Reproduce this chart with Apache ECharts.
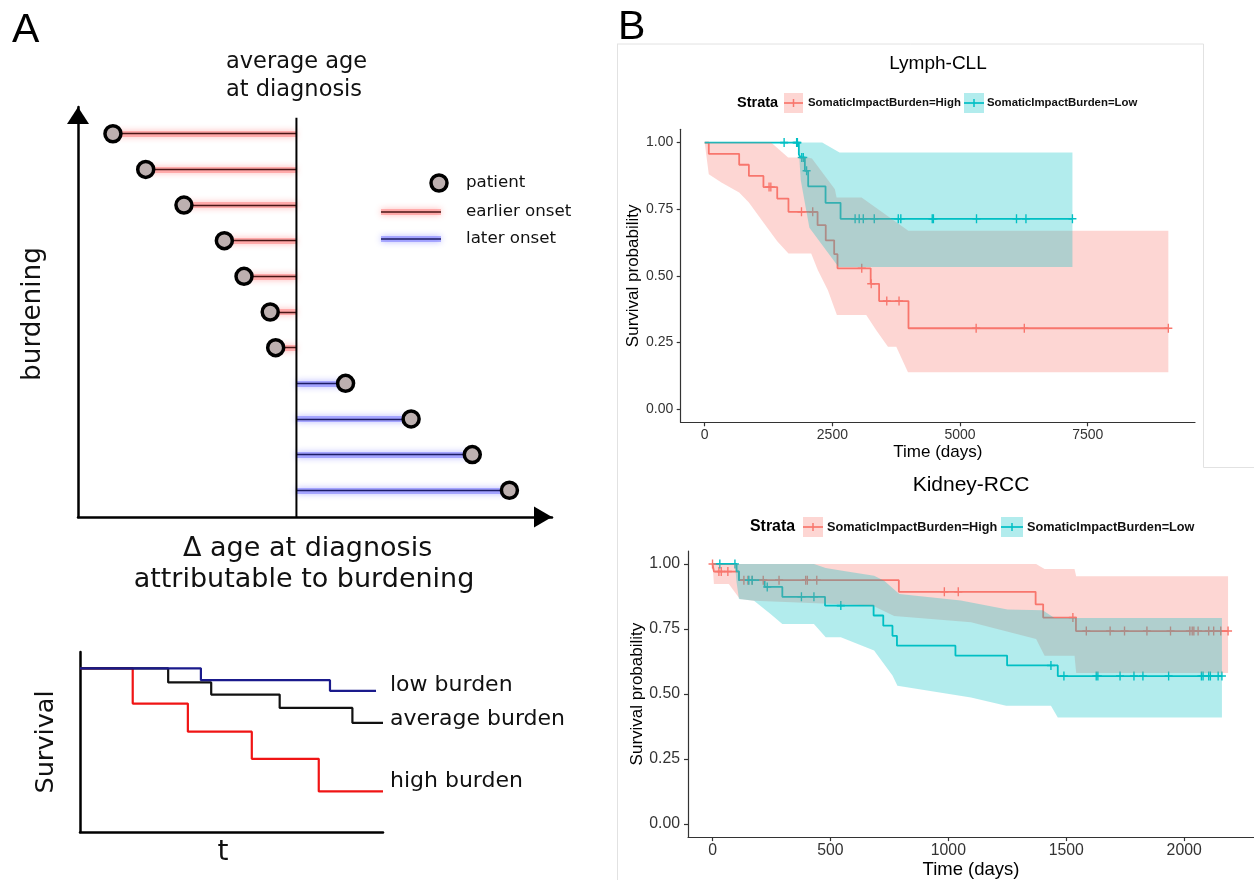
<!DOCTYPE html>
<html>
<head>
<meta charset="utf-8">
<script src="https://cdn.jsdelivr.net/npm/echarts@6/dist/echarts.min.js"></script>
<style>html,body{margin:0;padding:0;background:#fff}#chart{width:1254px;height:880px}</style>
</head>
<body>
<div id="chart"></div>
<script>
// ================= DATA =================
// Panel A (schematic): patients ranked by burdening, delta age at diagnosis
const patientRank  = [11, 10, 9, 8, 7, 6, 5, 4, 3, 2, 1];
const patientDelta = [-16.8, -13.8, -10.3, -6.6, -4.8, -2.4, -1.9, 4.5, 10.5, 16.1, 19.5];
const averageAgeLine = [[0, 0.25], [0, 11.45]];

// Panel A (schematic survival curves)
const sketchLow     = [[0, 1], [39.9, 0.928], [82.5, 0.863], [97.7, 0.863]];
const sketchAverage = [[0, 1], [29.1, 0.914], [43.3, 0.84], [65.9, 0.758], [89.9, 0.667], [100, 0.667]];
const sketchHigh    = [[0, 1], [17.4, 0.785], [35.6, 0.613], [56.7, 0.447], [78.8, 0.248], [100, 0.248]];

// Panel B top: Lymph-CLL
const cllHigh = [[0,1],[80,0.958],[675,0.917],[865,0.875],[1150,0.833],[1420,0.790],[1640,0.740],[2210,0.690],[2370,0.633],[2535,0.581],[2600,0.528],[3250,0.470],[3415,0.405],[3990,0.303],[9078,0.303]];
const cllHighCensor = [1260, 1295, 1895, 2115, 3075, 3260, 3565, 3805, 5315, 6258, 9078];
const cllHighUpper = [[0,1],[1300,1],[1634,0.944],[2026,0.944],[2100,0.94],[2549,0.825],[2582,0.794],[3072,0.794],[3987,0.669],[9078,0.669]];
const cllHighLower = [[0,1],[80,0.881],[327,0.85],[675,0.8125],[865,0.775],[1150,0.70],[1420,0.63],[1640,0.584],[2085,0.584],[2216,0.521],[2412,0.446],[2588,0.3525],[3163,0.3525],[3359,0.296],[3588,0.234],[3751,0.234],[3980,0.1375],[9078,0.1375]];

const cllLow = [[0,1],[1843,0.956],[1876,0.944],[1961,0.894],[2026,0.836],[2366,0.774],[2660,0.714],[7200,0.714]];
const cllLowCensor = [1555, 1800, 1815, 1900, 1930, 1995, 2945, 3025, 3105, 3320, 3790, 3840, 4455, 4478, 5322, 6105, 6290, 7200];
const cllLowUpper = [[0,1],[2300,1],[2640,0.9625],[7200,0.9625]];
const cllLowLower = [[0,1],[1830,1],[1850,0.95],[1880,0.86],[2050,0.68],[2620,0.533],[7200,0.533]];

// Panel B bottom: Kidney-RCC
const rccHigh = [[0,1],[6,0.971],[112,0.938],[790,0.893],[1370,0.845],[1402,0.794],[1541,0.742],[2186,0.742]];
const rccHighCensor = [0, 27, 37, 65, 133, 150, 168, 215, 282, 395, 402, 442, 983, 1042, 1528, 1585, 1686, 1747, 1842, 1942, 2024, 2034, 2041, 2059, 2104, 2125, 2155, 2186];
const rccHighUpper = [[0,1],[1372,1],[1408,0.981],[1535,0.981],[1542,0.953],[2186,0.953]];
const rccHighLower = [[0,1],[6,0.923],[69,0.923],[116,0.865],[176,0.859],[678,0.84],[770,0.80],[1096,0.776],[1372,0.7115],[1408,0.647],[1535,0.647],[1542,0.581],[2186,0.581]];

const rccLow = [[0,1],[102,0.972],[112,0.938],[221,0.912],[296,0.874],[477,0.840],[683,0.802],[724,0.763],[763,0.724],[782,0.686],[1030,0.648],[1249,0.610],[1464,0.569],[2160,0.569]];
const rccLowCensor = [31, 95, 154, 168, 232, 377, 430, 544, 1435, 1490, 1627, 1634, 1728, 1787, 1825, 1934, 2073, 2080, 2104, 2111, 2144, 2160];
const rccLowUpper = [[0,1],[430,1],[480,0.985],[544,0.975],[685,0.955],[728,0.936],[792,0.885],[1053,0.86],[1251,0.825],[1400,0.822],[1450,0.792],[2160,0.792]];
const rccLowLower = [[0,1],[95,1],[102,0.93],[112,0.865],[176,0.859],[246,0.808],[296,0.769],[430,0.769],[480,0.718],[544,0.718],[685,0.667],[763,0.571],[784,0.532],[1096,0.487],[1245,0.455],[1435,0.455],[1464,0.41],[2160,0.41]];

// tick values
const cllTimeTicks = [0, 2500, 5000, 7500];
const rccTimeTicks = [0, 500, 1000, 1500, 2000];
const survTicks = [0, 0.25, 0.5, 0.75, 1];

// ================= HELPERS =================
const FA = 'DejaVu Sans';
const FB = 'Liberation Sans';
const RED = '#F8766D', TEAL = '#00BFC4';
const PLUS = 'path://M-0.17,-1L0.17,-1L0.17,-0.17L1,-0.17L1,0.17L0.17,0.17L0.17,1L-0.17,1L-0.17,0.17L-1,0.17L-1,-0.17L-0.17,-0.17Z';

function survAt(curve, t) {
  let s = curve[0][1];
  for (const p of curve) { if (p[0] <= t) s = p[1]; }
  return s;
}
function stepLine(data, idx, color, width) {
  return { type: 'line', step: 'end', data, symbol: 'none', xAxisIndex: idx, yAxisIndex: idx,
    lineStyle: { color, width }, silent: true, z: 2 };
}
function censors(curve, times, idx, color, size) {
  return { type: 'scatter', data: times.map(t => [t, survAt(curve, t)]), symbol: PLUS, symbolSize: size,
    xAxisIndex: idx, yAxisIndex: idx, itemStyle: { color, opacity: 1 }, silent: true, z: 2 };
}
function ribbon(upper, lower, idx, rgba) {
  return { type: 'custom', xAxisIndex: idx, yAxisIndex: idx, silent: true, z: 3,
    data: [[upper[0][0], upper[0][1]]],
    renderItem: function (params, api) {
      const pts = upper.map(p => api.coord(p)).concat(lower.slice().reverse().map(p => api.coord(p)));
      return { type: 'polygon', shape: { points: pts }, style: { fill: rgba } };
    } };
}
function kmXAxis(grid, min, max, ticks, fs, nameFs, gap) {
  return { gridIndex: grid, type: 'value', min, max,
    axisLine: { show: true, onZero: false, lineStyle: { color: '#333', width: 1.2 } },
    axisTick: { show: true, customValues: ticks, length: 4, lineStyle: { color: '#333', width: 1.2 } },
    axisLabel: { customValues: ticks, fontSize: fs, fontFamily: FB, color: '#333', margin: 6,
      formatter: v => String(v) },
    splitLine: { show: false },
    name: 'Time (days)', nameLocation: 'middle', nameGap: gap,
    nameTextStyle: { fontFamily: FB, fontSize: nameFs, color: '#000' } };
}
function kmYAxis(grid, fs, gap, margin) {
  return { gridIndex: grid, type: 'value', min: -0.05, max: 1.05,
    axisLine: { show: true, onZero: false, lineStyle: { color: '#333', width: 1.2 } },
    axisTick: { show: true, customValues: survTicks, length: 4, lineStyle: { color: '#333', width: 1.2 } },
    axisLabel: { customValues: survTicks, fontSize: fs, fontFamily: FB, color: '#333', margin,
      formatter: v => v.toFixed(2) },
    splitLine: { show: false },
    name: 'Survival probability', nameLocation: 'middle', nameRotate: 90, nameGap: gap,
    nameTextStyle: { fontFamily: FB, fontSize: 17, color: '#000' } };
}
function txt(text, x, y, size, opts) {
  opts = opts || {};
  return { type: 'text', x, y, rotation: opts.rot || 0, silent: true,
    style: { text, fontSize: size, fontFamily: opts.font || FA, fontWeight: opts.bold ? 'bold' : 'normal',
      fill: opts.color || '#111', align: opts.align || 'left', verticalAlign: 'middle' } };
}
function legendKB(x, yc, w, h, color, rgba) {
  return [
    { type: 'rect', shape: { x, y: yc - h / 2, width: w, height: h }, style: { fill: rgba }, silent: true },
    { type: 'line', shape: { x1: x, y1: yc, x2: x + w, y2: yc }, style: { stroke: color, lineWidth: 1.7 }, silent: true },
    { type: 'line', shape: { x1: x + w / 2, y1: yc - 4, x2: x + w / 2, y2: yc + 4 }, style: { stroke: color, lineWidth: 1.5 }, silent: true }
  ];
}

// Panel A segments
const earlierSegs = [], laterSegs = [];
patientDelta.forEach((d, i) => {
  const seg = { coords: [[d, patientRank[i]], [0, patientRank[i]]] };
  (d < 0 ? earlierSegs : laterSegs).push(seg);
});
const dots = patientDelta.map((d, i) => [d, patientRank[i]]);

const RED_RGBA = 'rgba(248,118,109,0.3)', TEAL_RGBA = 'rgba(0,191,196,0.3)';
const frame = '#e2e2e2';
const GLOW_R = { stroke: 'rgba(255,120,120,0.5)', lineWidth: 6, shadowBlur: 6, shadowColor: 'rgba(255,90,90,0.8)' };
const GLOW_B = { stroke: 'rgba(110,110,255,0.5)', lineWidth: 6, shadowBlur: 6, shadowColor: 'rgba(90,90,255,0.8)' };

const graphic = [
  txt('A', 12, 30.5, 41, { font: FB, color: '#000' }),
  txt('B', 618, 28, 41, { font: FB, color: '#000' }),
  txt('average age', 226, 62.5, 22.5),
  txt('at diagnosis', 226, 90, 22.5),
  txt('burdening', 33.5, 314, 26.3, { align: 'center', rot: Math.PI / 2 }),
  txt('Δ age at diagnosis', 307.6, 549, 27, { align: 'center' }),
  txt('attributable to burdening', 304, 580, 27, { align: 'center' }),
  // legend A
  { type: 'circle', shape: { cx: 439, cy: 183, r: 8 }, style: { fill: '#bdb0b0', stroke: '#000', lineWidth: 3.5 }, silent: true },
  { type: 'line', shape: { x1: 381, y1: 212, x2: 441, y2: 212 }, style: GLOW_R, silent: true },
  { type: 'line', shape: { x1: 381, y1: 212, x2: 441, y2: 212 }, style: { stroke: '#4a1515', lineWidth: 1.3 }, silent: true },
  { type: 'line', shape: { x1: 381, y1: 239, x2: 441, y2: 239 }, style: GLOW_B, silent: true },
  { type: 'line', shape: { x1: 381, y1: 239, x2: 441, y2: 239 }, style: { stroke: '#1c1c66', lineWidth: 1.3 }, silent: true },
  txt('patient', 466, 183, 16.7),
  txt('earlier onset', 466, 212, 16.7),
  txt('later onset', 466, 239, 16.7),
  txt('low burden', 390, 685, 22),
  txt('average burden', 390, 719, 22),
  txt('high burden', 390, 781, 22),
  txt('Survival', 46, 742, 25.6, { align: 'center', rot: Math.PI / 2 }),
  txt('t', 223, 853, 28, { align: 'center' }),
  // panel B frame
  { type: 'line', shape: { x1: 617, y1: 44, x2: 1203.5, y2: 44 }, style: { stroke: frame, lineWidth: 1 }, silent: true },
  { type: 'line', shape: { x1: 617.5, y1: 44, x2: 617.5, y2: 880 }, style: { stroke: frame, lineWidth: 1 }, silent: true },
  { type: 'line', shape: { x1: 1203.5, y1: 44, x2: 1203.5, y2: 467.5 }, style: { stroke: frame, lineWidth: 1 }, silent: true },
  { type: 'line', shape: { x1: 1203.5, y1: 467.5, x2: 1254, y2: 467.5 }, style: { stroke: frame, lineWidth: 1 }, silent: true },
  // titles
  txt('Lymph-CLL', 938, 63.5, 19, { font: FB, align: 'center', color: '#000' }),
  txt('Kidney-RCC', 971, 485.5, 21, { font: FB, align: 'center', color: '#000' }),
  // legend B top
  txt('Strata', 737, 103, 14.5, { font: FB, bold: true, color: '#000' }),
  ...legendKB(784, 103, 19, 20, RED, RED_RGBA),
  txt('SomaticImpactBurden=High', 808, 103, 11.4, { font: FB, bold: true, color: '#111' }),
  ...legendKB(964, 103, 20, 20, TEAL, TEAL_RGBA),
  txt('SomaticImpactBurden=Low', 987, 103, 11.4, { font: FB, bold: true, color: '#111' }),
  // legend B bottom
  txt('Strata', 750, 527, 15.9, { font: FB, bold: true, color: '#000' }),
  ...legendKB(803, 527, 20, 20, RED, RED_RGBA),
  txt('SomaticImpactBurden=High', 827, 527, 12.7, { font: FB, bold: true, color: '#111' }),
  ...legendKB(1001, 527, 22, 20, TEAL, TEAL_RGBA),
  txt('SomaticImpactBurden=Low', 1027, 527, 12.7, { font: FB, bold: true, color: '#111' })
];

const plainAxis = (grid, min, max, extra) => Object.assign({
  gridIndex: grid, type: 'value', min, max,
  axisLine: { show: true, onZero: false, lineStyle: { color: '#000', width: 2.5 } },
  axisTick: { show: false }, axisLabel: { show: false }, splitLine: { show: false }
}, extra || {});

const option = {
  animation: false,
  backgroundColor: '#fff',
  grid: [
    { left: 78, top: 107, width: 474, height: 410 },
    { left: 80, top: 652, width: 303, height: 180 },
    { left: 680.7, top: 129.3, width: 514.3, height: 293 },
    { left: 688, top: 551, width: 566, height: 287 }
  ],
  xAxis: [
    plainAxis(0, -20, 23.4, { axisLine: { show: true, onZero: false, symbol: ['none', 'triangle'], symbolSize: [21, 18], symbolOffset: [0, -9], lineStyle: { color: '#000', width: 2.5 } } }),
    plainAxis(1, 0, 100),
    kmXAxis(2, -470, 9600, cllTimeTicks, 14, 17, 22),
    kmXAxis(3, -104, 2296, rccTimeTicks, 15.8, 18.5, 20)
  ],
  yAxis: [
    plainAxis(0, 0.25, 11.75, { axisLine: { show: true, onZero: false, symbol: ['none', 'triangle'], symbolSize: [22, 17], symbolOffset: [0, -8.5], lineStyle: { color: '#000', width: 2.5 } } }),
    plainAxis(1, 0, 1.1),
    kmYAxis(2, 14, 37, 7.4),
    kmYAxis(3, 15.8, 42, 8)
  ],
  graphic,
  series: [
    // ---- Panel A top ----
    { type: 'lines', coordinateSystem: 'cartesian2d', xAxisIndex: 0, yAxisIndex: 0, data: earlierSegs, silent: true, z: 2,
      lineStyle: { color: 'rgba(255,120,120,0.5)', width: 6, opacity: 1, shadowBlur: 6, shadowColor: 'rgba(255,90,90,0.8)' } },
    { type: 'lines', coordinateSystem: 'cartesian2d', xAxisIndex: 0, yAxisIndex: 0, data: laterSegs, silent: true, z: 2,
      lineStyle: { color: 'rgba(110,110,255,0.5)', width: 6, opacity: 1, shadowBlur: 6, shadowColor: 'rgba(90,90,255,0.8)' } },
    { type: 'lines', coordinateSystem: 'cartesian2d', xAxisIndex: 0, yAxisIndex: 0, data: earlierSegs, silent: true, z: 3,
      lineStyle: { color: '#4a1515', width: 1.3, opacity: 1 } },
    { type: 'lines', coordinateSystem: 'cartesian2d', xAxisIndex: 0, yAxisIndex: 0, data: laterSegs, silent: true, z: 3,
      lineStyle: { color: '#1c1c66', width: 1.3, opacity: 1 } },
    { type: 'line', data: averageAgeLine, xAxisIndex: 0, yAxisIndex: 0, symbol: 'none', silent: true, z: 3,
      lineStyle: { color: '#000', width: 2 } },
    { type: 'scatter', data: dots, xAxisIndex: 0, yAxisIndex: 0, symbol: 'circle', symbolSize: 16, silent: true, z: 4,
      itemStyle: { color: '#bdb0b0', borderColor: '#000', borderWidth: 3.5, opacity: 1 } },
    // ---- Panel A bottom ----
    stepLine(sketchHigh, 1, '#f01414', 2.2),
    stepLine(sketchAverage, 1, '#111', 2.2),
    stepLine(sketchLow, 1, '#1a1a8c', 2.2),
    // ---- Panel B top ----
    stepLine(cllHigh, 2, RED, 1.8),
    stepLine(cllLow, 2, TEAL, 1.8),
    censors(cllHigh, cllHighCensor, 2, RED, [8, 9]),
    censors(cllLow, cllLowCensor, 2, TEAL, [8, 9]),
    ribbon(cllHighUpper, cllHighLower, 2, RED_RGBA),
    ribbon(cllLowUpper, cllLowLower, 2, TEAL_RGBA),
    // ---- Panel B bottom ----
    stepLine(rccHigh, 3, RED, 1.8),
    stepLine(rccLow, 3, TEAL, 1.8),
    censors(rccHigh, rccHighCensor, 3, RED, [8, 9]),
    censors(rccLow, rccLowCensor, 3, TEAL, [8, 9]),
    ribbon(rccHighUpper, rccHighLower, 3, RED_RGBA),
    ribbon(rccLowUpper, rccLowLower, 3, TEAL_RGBA)
  ]
};

const chart = echarts.init(document.getElementById('chart'));
chart.setOption(option);
</script>
</body>
</html>
